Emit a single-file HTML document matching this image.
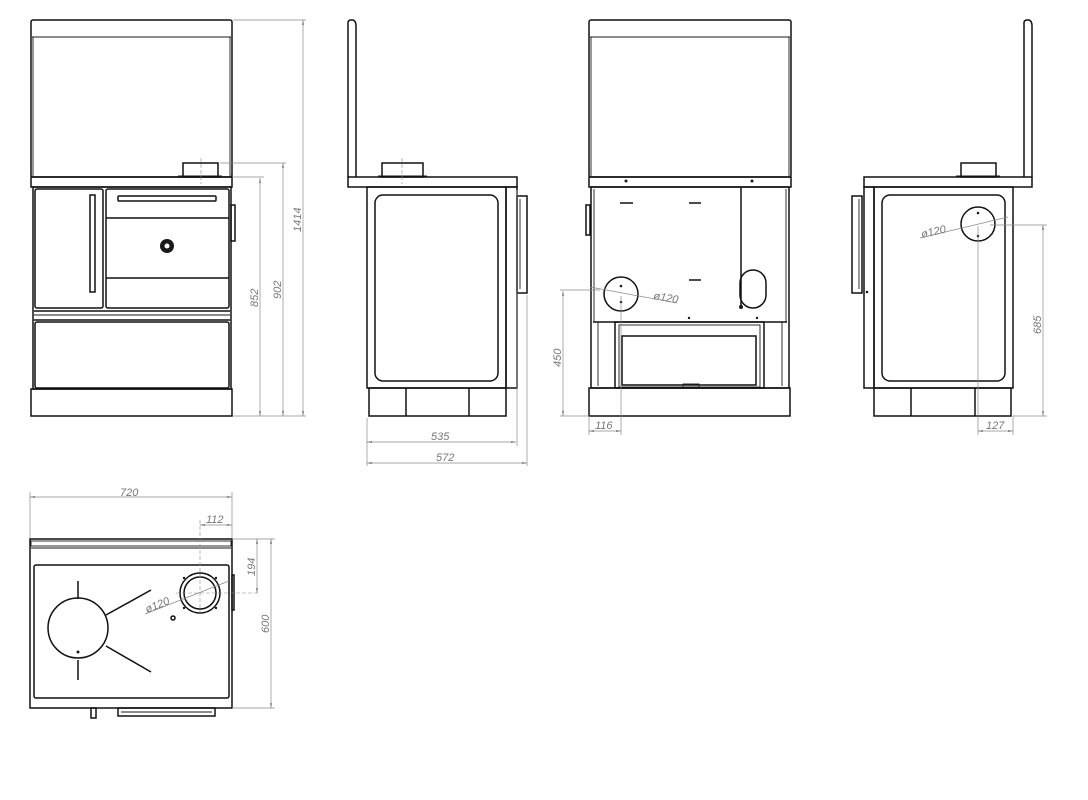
<!DOCTYPE html>
<html><head><meta charset="utf-8"><style>
html,body{margin:0;padding:0;background:#fff;}
svg{display:block}
.s{fill:none;stroke:#111;stroke-width:1.5}
.t{fill:none;stroke:#1a1a1a;stroke-width:0.9}
.d{fill:none;stroke:#8a8a8a;stroke-width:0.7}
.c{fill:none;stroke:#8a8a8a;stroke-width:0.6;stroke-dasharray:4 2}
text{font-family:"Liberation Sans",sans-serif;font-style:italic;font-size:11px;fill:#777}
.dot{fill:#1a1a1a}
</style></head><body>
<svg width="1088" height="800" viewBox="0 0 1088 800" xmlns="http://www.w3.org/2000/svg">
<defs>
<marker id="a" viewBox="0 0 10 10" refX="10" refY="5" markerWidth="7" markerHeight="7" orient="auto-start-reverse"><path d="M0,3 L10,5 L0,7 z" fill="#777"/></marker>
</defs>

<!-- ===== FRONT VIEW ===== -->
<rect class="s" x="31" y="20" width="201" height="157" rx="2"/>
<line class="t" x1="32" y1="37" x2="231" y2="37"/>
<line class="t" x1="33" y1="37" x2="33" y2="176"/>
<line class="t" x1="230" y1="37" x2="230" y2="176"/>
<rect class="s" x="183" y="163" width="35" height="14"/>
<line class="t" x1="178" y1="176" x2="222" y2="176"/>
<rect class="s" x="31" y="177" width="201" height="10"/>
<rect class="s" x="33" y="187" width="198" height="202"/>
<rect class="s" x="35" y="189" width="68" height="119" rx="2"/>
<rect class="s" x="90" y="195" width="5" height="97"/>
<rect class="s" x="106" y="189" width="123" height="119" rx="2"/>
<rect class="s" x="118" y="196" width="98" height="5" rx="1"/>
<line class="s" x1="106" y1="218" x2="229" y2="218"/>
<line class="s" x1="106" y1="278" x2="229" y2="278"/>
<circle cx="167" cy="246" r="7" fill="#1a1a1a"/>
<circle cx="167" cy="246" r="2.5" fill="#fff"/>
<line class="s" x1="34" y1="311" x2="230" y2="311"/>
<line class="t" x1="34" y1="315" x2="230" y2="315"/>
<line class="s" x1="34" y1="320" x2="230" y2="320"/>
<rect class="s" x="35" y="322" width="194" height="66" rx="2"/>
<rect class="s" x="231" y="205" width="4" height="36"/>
<rect class="s" x="31" y="389" width="201" height="27"/>
<line class="d" x1="233" y1="20" x2="306" y2="20"/>
<line class="d" x1="220" y1="163" x2="286" y2="163"/>
<line class="d" x1="233" y1="177" x2="264" y2="177"/>
<line class="d" x1="233" y1="416" x2="306" y2="416"/>
<line class="d" x1="260" y1="178" x2="260" y2="416" marker-start="url(#a)" marker-end="url(#a)"/>
<line class="d" x1="283" y1="163" x2="283" y2="416" marker-start="url(#a)" marker-end="url(#a)"/>
<line class="d" x1="303" y1="20" x2="303" y2="416" marker-start="url(#a)" marker-end="url(#a)"/>
<text transform="translate(258,307) rotate(-90)">852</text>
<text transform="translate(281,299) rotate(-90)">902</text>
<text transform="translate(301,232) rotate(-90)">1414</text>
<line class="c" x1="201" y1="158" x2="201" y2="184"/>

<!-- ===== LEFT SIDE VIEW ===== -->
<path class="s" d="M348,177 L348,23 Q348,20 351,20 L353,20 Q356,21 356,26 L356,177"/>
<rect class="s" x="382" y="163" width="41" height="14"/>
<line class="t" x1="378" y1="176" x2="427" y2="176"/>
<rect class="s" x="348" y="177" width="169" height="10"/>
<rect class="s" x="367" y="187" width="139" height="201"/>
<rect class="s" x="375" y="195" width="123" height="186" rx="8"/>
<rect class="s" x="506" y="187" width="11" height="201"/>
<rect class="s" x="517" y="196" width="10" height="97"/>
<line class="t" x1="520" y1="199" x2="520" y2="289"/>
<rect class="s" x="369" y="388" width="137" height="28"/>
<line class="s" x1="406" y1="388" x2="406" y2="416"/>
<line class="s" x1="469" y1="388" x2="469" y2="416"/>
<line class="c" x1="402" y1="158" x2="402" y2="184"/>
<line class="d" x1="367" y1="418" x2="367" y2="466"/>
<line class="d" x1="517" y1="190" x2="517" y2="446"/>
<line class="d" x1="527" y1="295" x2="527" y2="466"/>
<line class="d" x1="367" y1="442" x2="516" y2="442" marker-start="url(#a)" marker-end="url(#a)"/>
<line class="d" x1="367" y1="463" x2="527" y2="463" marker-start="url(#a)" marker-end="url(#a)"/>
<text x="431" y="440">535</text>
<text x="436" y="461">572</text>

<!-- ===== BACK VIEW ===== -->
<rect class="s" x="589" y="20" width="202" height="157" rx="2"/>
<line class="t" x1="590" y1="37" x2="790" y2="37"/>
<line class="t" x1="591" y1="37" x2="591" y2="176"/>
<line class="t" x1="789" y1="37" x2="789" y2="176"/>
<rect class="s" x="589" y="177" width="202" height="10"/>
<circle class="dot" cx="626" cy="181" r="1.5"/>
<circle class="dot" cx="752" cy="181" r="1.5"/>
<rect class="s" x="591" y="187" width="198" height="201"/>
<line class="t" x1="594" y1="189" x2="594" y2="322"/>
<line class="t" x1="786" y1="189" x2="786" y2="322"/>
<rect class="s" x="586" y="205" width="4" height="30"/>
<line class="s" x1="741" y1="187" x2="741" y2="306"/>
<line class="s" x1="620" y1="203" x2="633" y2="203"/>
<line class="s" x1="689" y1="203" x2="701" y2="203"/>
<line class="s" x1="689" y1="280" x2="701" y2="280"/>
<circle class="s" cx="621" cy="294" r="17"/>
<circle class="dot" cx="621" cy="286" r="1.3"/>
<circle class="dot" cx="621" cy="302" r="1.3"/>
<rect class="s" x="740" y="270" width="26" height="38" rx="13"/>
<circle class="dot" cx="741" cy="307" r="2"/>
<line class="s" x1="593" y1="322" x2="787" y2="322"/>
<rect class="s" x="615" y="322" width="149" height="66"/>
<line class="t" x1="598" y1="322" x2="598" y2="386"/>
<line class="t" x1="782" y1="322" x2="782" y2="386"/>
<rect class="t" x="619" y="325" width="141" height="62"/>
<rect class="s" x="622" y="336" width="134" height="49"/>
<rect class="t" x="683" y="384" width="16" height="3"/>
<circle class="dot" cx="689" cy="318" r="1.2"/>
<circle class="dot" cx="757" cy="318" r="1.2"/>
<rect class="s" x="589" y="388" width="201" height="28"/>
<line class="d" x1="590" y1="287" x2="677" y2="303"/>
<text transform="translate(653,299) rotate(10)">ø120</text>
<line class="d" x1="560" y1="290" x2="600" y2="290"/>
<line class="d" x1="560" y1="416" x2="589" y2="416"/>
<line class="d" x1="563" y1="291" x2="563" y2="416" marker-start="url(#a)" marker-end="url(#a)"/>
<text transform="translate(561,367) rotate(-90)">450</text>
<line class="d" x1="589" y1="416" x2="589" y2="435"/>
<line class="d" x1="621" y1="296" x2="621" y2="435"/>
<line class="d" x1="589" y1="431" x2="621" y2="431" marker-start="url(#a)" marker-end="url(#a)"/>
<text x="595" y="429">116</text>

<!-- ===== RIGHT SIDE VIEW ===== -->
<path class="s" d="M1024,177 L1024,23 Q1024,20 1027,20 L1029,20 Q1032,21 1032,26 L1032,177"/>
<rect class="s" x="961" y="163" width="35" height="14"/>
<line class="t" x1="956" y1="176" x2="1000" y2="176"/>
<rect class="s" x="864" y="177" width="168" height="10"/>
<rect class="s" x="874" y="187" width="139" height="201"/>
<rect class="s" x="882" y="195" width="123" height="186" rx="8"/>
<rect class="s" x="864" y="187" width="10" height="201"/>
<rect class="s" x="852" y="196" width="10" height="97"/>
<line class="t" x1="859" y1="199" x2="859" y2="289"/>
<circle class="dot" cx="867" cy="292" r="1.3"/>
<circle class="s" cx="978" cy="224" r="17"/>
<circle class="dot" cx="978" cy="213" r="1.3"/>
<circle class="dot" cx="978" cy="236" r="1.3"/>
<rect class="s" x="874" y="388" width="137" height="28"/>
<line class="s" x1="911" y1="388" x2="911" y2="416"/>
<line class="s" x1="975" y1="388" x2="975" y2="416"/>
<line class="d" x1="920" y1="238" x2="1008" y2="217"/>
<text transform="translate(922,238) rotate(-13)">ø120</text>
<line class="d" x1="990" y1="225" x2="1047" y2="225"/>
<line class="d" x1="1013" y1="416" x2="1047" y2="416"/>
<line class="d" x1="1043" y1="225" x2="1043" y2="416" marker-start="url(#a)" marker-end="url(#a)"/>
<text transform="translate(1041,334) rotate(-90)">685</text>
<line class="d" x1="978" y1="226" x2="978" y2="435"/>
<line class="d" x1="1013" y1="416" x2="1013" y2="435"/>
<line class="d" x1="978" y1="431" x2="1013" y2="431" marker-start="url(#a)" marker-end="url(#a)"/>
<text x="986" y="429">127</text>

<!-- ===== TOP VIEW ===== -->
<rect class="s" x="30" y="539" width="202" height="169"/>
<rect class="t" x="31" y="541" width="200" height="5"/>
<line class="t" x1="31" y1="548" x2="231" y2="548"/>
<rect class="s" x="34" y="565" width="195" height="133" rx="2"/>
<rect class="s" x="232" y="575" width="2" height="35"/>
<circle class="s" cx="78" cy="628" r="30"/>
<circle class="dot" cx="78" cy="652" r="1.5"/>
<line class="s" x1="78" y1="581" x2="78" y2="599"/>
<line class="s" x1="78" y1="660" x2="78" y2="680"/>
<line class="s" x1="106" y1="615" x2="151" y2="590"/>
<line class="s" x1="106" y1="646" x2="151" y2="672"/>
<circle class="s" cx="200" cy="593" r="20"/>
<circle class="s" cx="200" cy="593" r="16"/>
<circle class="dot" cx="184" cy="578" r="1.2"/>
<circle class="dot" cx="216" cy="578" r="1.2"/>
<circle class="dot" cx="184" cy="608" r="1.2"/>
<circle class="dot" cx="216" cy="608" r="1.2"/>
<circle class="s" cx="173" cy="618" r="2"/>
<rect class="s" x="118" y="708" width="97" height="8"/>
<line class="t" x1="121" y1="712" x2="212" y2="712"/>
<rect class="s" x="91" y="708" width="5" height="10"/>
<line class="c" x1="200" y1="520" x2="200" y2="616"/>
<line class="c" x1="176" y1="593" x2="260" y2="593"/>
<line class="d" x1="145" y1="614" x2="229" y2="581"/>
<text transform="translate(147,613) rotate(-22)">ø120</text>
<line class="d" x1="30" y1="492" x2="30" y2="538"/>
<line class="d" x1="232" y1="492" x2="232" y2="538"/>
<line class="d" x1="30" y1="497" x2="232" y2="497" marker-start="url(#a)" marker-end="url(#a)"/>
<text x="120" y="496">720</text>
<line class="d" x1="200" y1="525" x2="232" y2="525" marker-start="url(#a)" marker-end="url(#a)"/>
<text x="206" y="523">112</text>
<line class="d" x1="232" y1="539" x2="275" y2="539"/>
<line class="d" x1="232" y1="708" x2="275" y2="708"/>
<line class="d" x1="257" y1="539" x2="257" y2="593" marker-start="url(#a)" marker-end="url(#a)"/>
<text transform="translate(255,576) rotate(-90)">194</text>
<line class="d" x1="271" y1="539" x2="271" y2="708" marker-start="url(#a)" marker-end="url(#a)"/>
<text transform="translate(269,633) rotate(-90)">600</text>
</svg>
</body></html>
